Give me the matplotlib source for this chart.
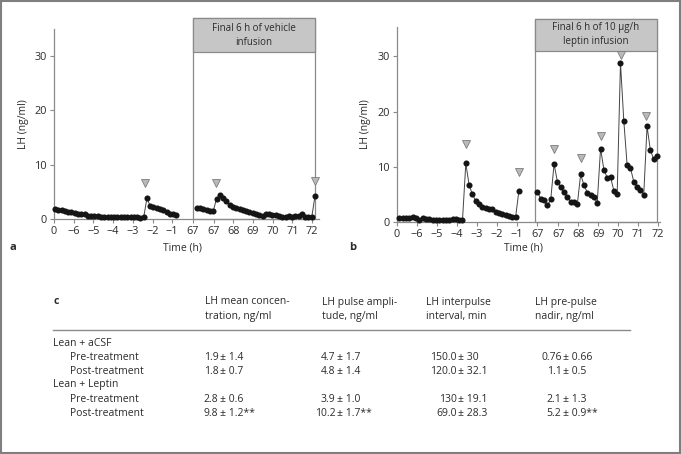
import numpy as np
import matplotlib
matplotlib.use("Agg")
import matplotlib.pyplot as plt
from matplotlib.patches import Rectangle

plt.rcParams['font.family'] = ['Open Sans', 'DejaVu Sans']

STEP = 1 / 6  # samples every 10 min

# panel a: lean + vehicle (aCSF)
a_left_start = -6.95
a_left_lh = [1.8, 1.7, 1.6, 1.4, 1.3, 1.2, 1.1, 1.0, 0.9, 1.0, 0.6, 0.5, 0.5, 0.5,
             0.4, 0.4, 0.4, 0.4, 0.4, 0.4, 0.3, 0.4, 0.3, 0.3, 0.4, 0.3, 0.1, 0.3,
             3.8, 2.4, 2.2, 2.0, 1.8, 1.6, 1.3, 1.0, 0.9, 0.8]
a_right_start = 66.25
a_right_lh = [2.1, 2.0, 1.9, 1.7, 1.5, 1.5, 3.7, 4.4, 3.9, 3.3, 2.6, 2.3, 2.1, 1.9,
              1.7, 1.5, 1.3, 1.1, 0.9, 0.75, 0.6, 1.0, 0.85, 0.8, 0.7, 0.6, 0.3, 0.4,
              0.5, 0.4, 0.5, 0.5, 1.0, 0.3, 0.3, 0.4, 4.3]
a_pulse_t = [-2.38, 67.2, 72.25]
a_pulse_y = [6.6, 6.7, 7.0]

# panel b: lean + leptin
b_left_start = -6.88
b_left_lh = [0.8, 0.8, 0.7, 0.8, 0.9, 0.8, 0.4, 0.8, 0.5, 0.5, 0.4, 0.4, 0.4, 0.3,
             0.4, 0.3, 0.5, 0.5, 0.4, 0.3, 10.6, 6.7, 5.0, 3.8, 3.3, 2.8, 2.5, 2.3,
             2.3, 1.8, 1.6, 1.4, 1.2, 1.0, 0.9, 0.9, 5.7]
b_right_start = 66.05
b_right_lh = [5.4, 4.2, 3.9, 3.0, 4.1, 10.5, 7.3, 6.3, 5.4, 4.6, 3.6, 3.6, 3.2, 8.6,
              6.7, 5.3, 4.9, 4.5, 3.5, 13.3, 9.5, 8.0, 8.1, 5.7, 5.0, 28.8, 18.3,
              10.3, 9.8, 7.3, 6.4, 5.8, 4.9, 17.3, 13.0, 11.4, 12.0]
b_pulse_t = [-3.55, -0.88, 66.9, 68.23, 69.24, 70.24, 71.5]
b_pulse_y = [14.1, 9.0, 13.3, 11.6, 15.5, 30.2, 19.2]

xtick_labels = ['0', '\u22126', '\u22125', '\u22124', '\u22123', '\u22122', '\u22121',
                '67', '67', '68', '69', '70', '71', '72']
xtick_pos = [0, 1, 2, 3, 4, 5, 6, 7.05, 8.1, 9.1, 10.1, 11.1, 12.1, 13.1]

# table c
col_headers = [["LH mean concen-", "tration, ng/ml"],
               ["LH pulse ampli-", "tude, ng/ml"],
               ["LH interpulse", "interval, min"],
               ["LH pre-pulse", "nadir, ng/ml"]]
groups = ["Lean + aCSF", "Lean + Leptin"]
phases = ["Pre-treatment", "Post-treatment"]
means = [["1.9", "4.7", "150.0", "0.76"],
         ["1.8", "4.8", "120.0", "1.1"],
         ["2.8", "3.9", "130", "2.1"],
         ["9.8", "10.2", "69.0", "5.2"]]
sds = [["1.4", "1.7", "30", "0.66"],
       ["0.7", "1.4", "32.1", "0.5"],
       ["0.6", "1.0", "19.1", "1.3"],
       ["1.2**", "1.7**", "28.3", "0.9**"]]


def to_axis(t):
    t = np.asarray(t, dtype=float)
    return np.where(t < 30, t + 7, t - 59)


fig = plt.figure(figsize=(6.81, 4.54), dpi=100)
bg = fig.add_axes([0, 0, 1, 1])
bg.set_xlim(0, 681)
bg.set_ylim(454, 0)
bg.axis('off')
bg.add_patch(Rectangle((0.75, 0.75), 679.5, 452.5, fill=False, ec='#7f7f7f', lw=1.5))

AX = '#8a8a8a'
TXT = '#2b2b2b'


def panel(rect, xmax, ymax, left, right, pulses, header, hdr, box_left):
    ax = fig.add_axes(rect)
    ax.set_facecolor('none')
    for start, vals in (left, right):
        t = start + STEP * np.arange(len(vals))
        ax.plot(to_axis(t), vals, '-', color='#444444', lw=0.7, zorder=3, clip_on=False)
        ax.plot(to_axis(t), vals, 'o', ms=4.4, mfc='#151515', mec='#151515', mew=0,
                zorder=4, clip_on=False)
    ax.plot(to_axis(pulses[0]), pulses[1], 'v', ms=6, mfc='#b9b9b9', mec='#7d7d7d',
            mew=0.6, ls='none', zorder=4, clip_on=False)
    box_right = float(to_axis(right[0] + STEP * (len(right[1]) - 1)))
    w = box_right - box_left
    ax.add_patch(Rectangle((box_left, 0), w, hdr[1], fill=False, ec=AX, lw=0.9,
                           clip_on=False, zorder=2))
    ax.add_patch(Rectangle((box_left, hdr[0]), w, hdr[1] - hdr[0], fc='#c6c6c6', ec=AX,
                           lw=0.9, clip_on=False, zorder=2))
    ax.text(box_left + w / 2, (hdr[0] + hdr[1]) / 2, header, ha='center', va='center',
            fontsize=7, color=TXT, linespacing=1.35)
    ax.set_xlim(0, xmax)
    ax.set_ylim(0, ymax)
    ax.set_xticks(xtick_pos)
    ax.set_xticklabels(xtick_labels)
    ax.set_yticks([0, 10, 20, 30])
    for s in ('top', 'right'):
        ax.spines[s].set_visible(False)
    for s in ('left', 'bottom'):
        ax.spines[s].set_color(AX)
        ax.spines[s].set_linewidth(0.9)
    ax.tick_params(colors=AX, labelcolor=TXT, labelsize=7.8, length=3, width=0.8, pad=2)
    ax.set_xlabel('Time (h)', fontsize=7.5, color=TXT)
    ax.set_ylabel('LH (ng/ml)', fontsize=7.5, color=TXT)
    return ax


ax_a = panel([54 / 681, 1 - 219 / 454, 265 / 681, 190 / 454], 13.45, 35,
             (a_left_start, a_left_lh), (a_right_start, a_right_lh),
             (a_pulse_t, a_pulse_y), "Final 6 h of vehicle\ninfusion", (30.7, 37.0), 7.05)
ax_a.xaxis.set_label_coords((182 - 54) / 265, (219 - 242) / 190)
ax_a.yaxis.set_label_coords((29 - 54) / 265, 0.5)

ax_b = panel([397 / 681, 1 - 222 / 454, 263 / 681, 195 / 454], 13.2, 35.3,
             (b_left_start, b_left_lh), (b_right_start, b_right_lh),
             (b_pulse_t, b_pulse_y), "Final 6 h of 10 \u00b5g/h\nleptin infusion",
             (31.0, 36.8), 6.93)
ax_b.xaxis.set_label_coords((523 - 397) / 263, (222 - 242) / 195)
ax_b.yaxis.set_label_coords((371 - 397) / 263, 0.5)

bg.text(10, 248, 'a', fontsize=8, fontweight='bold', color=TXT, va='center')
bg.text(349, 248, 'b', fontsize=8, fontweight='bold', color=TXT, va='center')

# table
FS = 7.5
bg.text(53, 302, 'c', fontsize=FS, fontweight='bold', color=TXT, va='center')
hdr_x = [205, 322, 426, 535]
pm_x = [224, 341, 462, 567]
for x, lines in zip(hdr_x, col_headers):
    for k, line in enumerate(lines):
        bg.text(x, 302 + 14 * k, line, fontsize=FS, color=TXT, va='center')
bg.plot([53, 630], [330, 330], color='#8a8a8a', lw=1.0)

row_y = [343, 357, 371, 385, 399, 413]
r = 0
for g, group in enumerate(groups):
    bg.text(53, row_y[r], group, fontsize=FS, color=TXT, va='center')
    r += 1
    for p, phase in enumerate(phases):
        y = row_y[r]
        bg.text(70, y, phase, fontsize=FS, color=TXT, va='center')
        for c in range(4):
            bg.text(pm_x[c] - 5.5, y, means[2 * g + p][c], fontsize=FS, color=TXT,
                    va='center', ha='right')
            bg.text(pm_x[c] - 4, y, '\u00b1 ' + sds[2 * g + p][c], fontsize=FS,
                    color=TXT, va='center', ha='left')
        r += 1

fig.savefig('out.png', dpi=100)
